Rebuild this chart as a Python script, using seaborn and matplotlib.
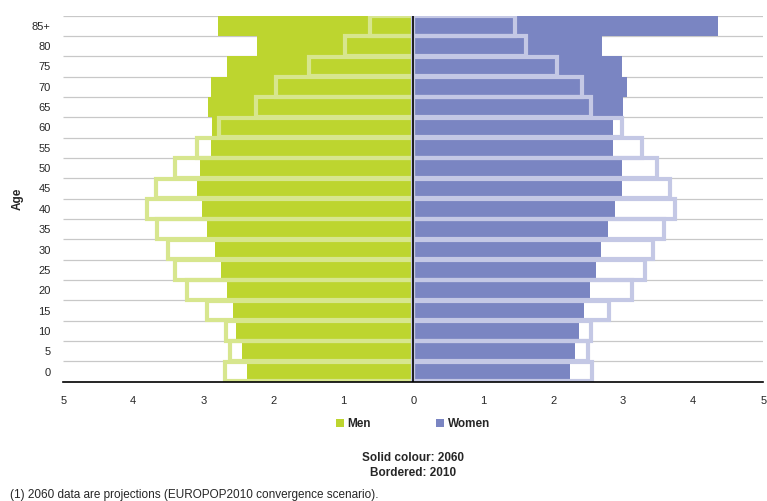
import numpy as np
import matplotlib
matplotlib.use("Agg")
import matplotlib.pyplot as plt
import seaborn as sns
from matplotlib.patches import Patch

# Datos: porcentaje de la poblacion total por grupo de edad
ages = ["85+", "80", "75", "70", "65", "60", "55", "50", "45",
        "40", "35", "30", "25", "20", "15", "10", "5", "0"]
men_2060 = [2.79, 2.23, 2.66, 2.89, 2.93, 2.87, 2.89, 3.05, 3.09,
            3.02, 2.94, 2.83, 2.74, 2.66, 2.57, 2.53, 2.44, 2.38]
men_2010 = [0.62, 0.97, 1.49, 1.96, 2.24, 2.78, 3.09, 3.40, 3.68,
            3.81, 3.66, 3.50, 3.40, 3.23, 2.95, 2.67, 2.62, 2.69]
women_2060 = [4.36, 2.70, 2.98, 3.06, 3.00, 2.85, 2.85, 2.98, 2.98,
              2.89, 2.79, 2.68, 2.61, 2.53, 2.44, 2.37, 2.31, 2.24]
women_2010 = [1.46, 1.61, 2.06, 2.41, 2.54, 2.98, 3.27, 3.48, 3.67,
              3.74, 3.59, 3.42, 3.31, 3.12, 2.80, 2.54, 2.50, 2.56]
x_ticks = [-5, -4, -3, -2, -1, 0, 1, 2, 3, 4, 5]

# Colores
green = "#BDD52F"
green_light = "#D7E68E"
blue = "#7A85C2"
blue_light = "#C4C8E5"

sns.set_style("white")
plt.rcParams["font.family"] = ["Liberation Sans", "DejaVu Sans"]

fig = plt.figure(figsize=(7.67, 5.01), dpi=100)
ax = fig.add_axes([0.0825, 0.238, 0.9125, 0.731])

# Lineas de la cuadricula entre filas
ax.hlines(np.arange(-0.5, len(ages) - 1, 1), -5, 5, color="#C8C8C8",
          linewidth=0.9, zorder=0)

# Barras solidas (2060)
sns.barplot(x=-np.array(men_2060), y=ages, orient="h", color=green,
            saturation=1, width=1.0, errorbar=None, linewidth=0, ax=ax, zorder=2)
sns.barplot(x=women_2060, y=ages, orient="h", color=blue,
            saturation=1, width=1.0, errorbar=None, linewidth=0, ax=ax, zorder=2)

# Barras con borde (2010)
sns.barplot(x=-np.array(men_2010), y=ages, orient="h", color=green_light,
            saturation=1, width=0.97, errorbar=None, fill=False,
            linewidth=3.0, ax=ax, zorder=3)
sns.barplot(x=women_2010, y=ages, orient="h", color=blue_light,
            saturation=1, width=0.97, errorbar=None, fill=False,
            linewidth=3.0, ax=ax, zorder=3)

ax.axvline(0, color="black", linewidth=1.2, zorder=4)

ax.set_xlim(-5, 5)
ax.set_ylim(len(ages) - 0.5, -0.5)
ax.set_xticks(x_ticks)
ax.set_xticklabels([str(abs(t)) for t in x_ticks], fontsize=8)
ax.tick_params(axis="x", direction="out", length=5, width=1, color="black", pad=5)
ax.tick_params(axis="y", length=0, labelsize=8, pad=9)
ax.set_xlabel("")
ax.set_ylabel("Age", fontsize=8.5, fontweight="bold", labelpad=6)

for side in ["top", "right", "left"]:
    ax.spines[side].set_visible(False)
ax.spines["bottom"].set_color("black")
ax.spines["bottom"].set_linewidth(1.2)
ax.spines["bottom"].set_zorder(5)

# Leyenda
handles = [Patch(facecolor=green, edgecolor="none"),
           Patch(facecolor=blue, edgecolor="none")]
fig.legend(handles, ["Men", "Women"], loc="center",
           bbox_to_anchor=(413 / 767, 1 - 424 / 501), ncol=2, frameon=False,
           handlelength=0.7, handleheight=0.7, handletextpad=0.3,
           columnspacing=5.5, prop={"weight": "bold", "size": 8.5})

fig.text(413 / 767, 1 - 458 / 501, "Solid colour: 2060", ha="center",
         va="center", fontsize=8.5, fontweight="bold")
fig.text(413 / 767, 1 - 473 / 501, "Bordered: 2010", ha="center",
         va="center", fontsize=8.5, fontweight="bold")
fig.text(10 / 767, 1 - 495 / 501,
         "(1) 2060 data are projections (EUROPOP2010 convergence scenario).",
         ha="left", va="center", fontsize=8.5)

fig.savefig("out.png", dpi=100)
